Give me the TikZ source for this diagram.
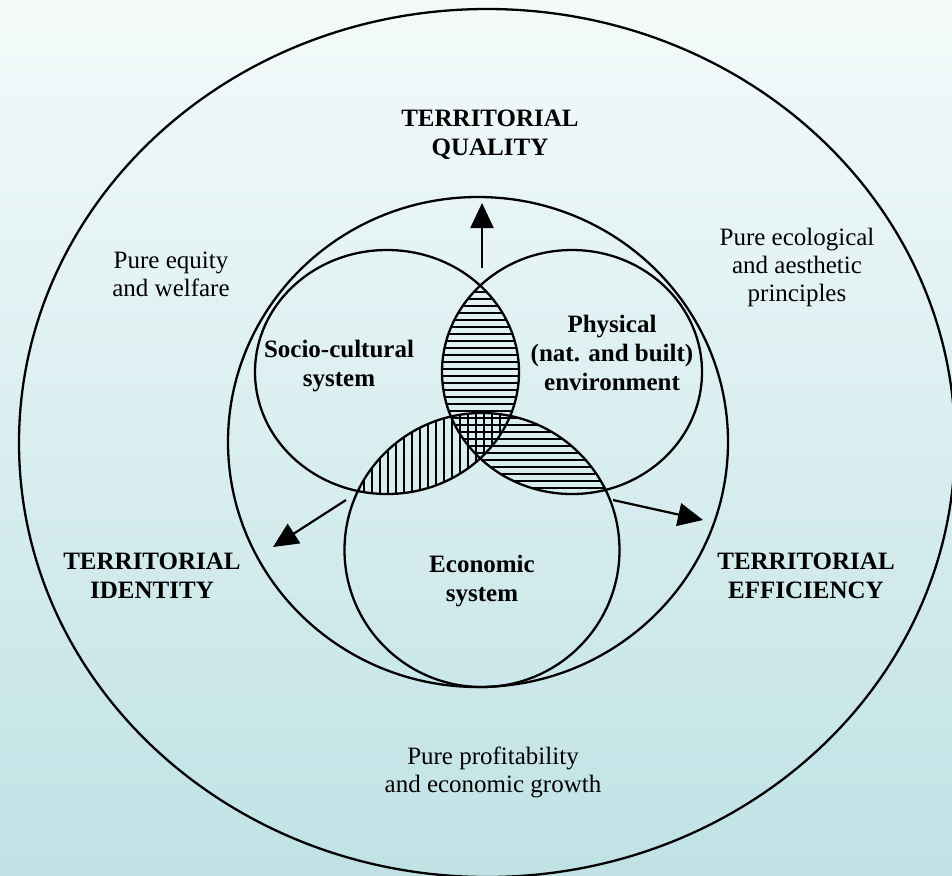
\documentclass[tikz,border=0pt]{standalone}
\usepackage{fontspec}
\setmainfont{Liberation Serif}
\usetikzlibrary{arrows.meta}

\definecolor{bgtop}{RGB}{244,250,250}
\definecolor{bgbottom}{RGB}{192,226,229}

\begin{document}
\begin{tikzpicture}[x=0.5pt, y=-0.5pt,
  ring/.style={line width=1.15pt},
  hatch/.style={line width=1.4pt},
  plain/.style={font=\fontsize{12.5}{14}\selectfont, align=center, inner sep=0pt},
  heading/.style={font=\fontsize{12.5}{14.5}\selectfont\bfseries, align=center, inner sep=0pt},
  pointer/.style={line width=1.1pt, -{Triangle[length=12.5pt,width=11.5pt]}}]
% Background
\fill[top color=bgtop, bottom color=bgbottom] (0,0) rectangle (952,875);
\useasboundingbox (0,0) rectangle (952,875);
% Hatching: socio-cultural and physical
\begin{scope}
  \clip (387,372) ellipse (132 and 122);
  \clip (572,372) ellipse (130 and 122);
  \foreach \y in {292,299,...,480} \draw[hatch] (420,\y) -- (540,\y);
\end{scope}
% Hatching: physical and economic
\begin{scope}
  \clip (572,372) ellipse (130 and 122);
  \clip (482,550) ellipse (137.5 and 137);
  \foreach \y in {418,425,...,500} \draw[hatch] (440,\y) -- (640,\y);
\end{scope}
% Hatching: socio-cultural and economic
\begin{scope}
  \clip (387,372) ellipse (132 and 122);
  \clip (482,550) ellipse (137.5 and 137);
  \foreach \x in {348,356,...,500} \draw[hatch] (\x,410) -- (\x,500);
\end{scope}
% Rings
\draw[ring] (487,443) ellipse (468 and 434);
\draw[ring] (478,442) ellipse (250 and 245);
\draw[ring] (387,372) ellipse (132 and 122);
\draw[ring] (572,372) ellipse (130 and 122);
\draw[ring] (482,550) ellipse (137.5 and 137);
% Arrow ends
\coordinate (qfoot) at (482,268);
\coordinate (qtip) at (482,203);
\coordinate (ifoot) at (346,500);
\coordinate (itip) at (273,547);
\coordinate (efoot) at (613,500);
\coordinate (etip) at (703,520);
\draw[pointer] (qfoot) -- (qtip);
\draw[pointer] (ifoot) -- (itip);
\draw[pointer] (efoot) -- (etip);
% Labels
\node[heading] (quality) at (490,135) {TERRITORIAL\\QUALITY};
\node[heading] (identity) at (152,576) {TERRITORIAL\\IDENTITY};
\node[heading] (efficiency) at (806,576) {TERRITORIAL\\EFFICIENCY};
\node[heading] (socio) at (339,366) {Socio-cultural\\system};
\node[heading] (physical) at (612,353) {Physical\\(nat. and built)\\environment};
\node[heading] (economic) at (482,581) {Economic\\system};
\node[plain] (equity) at (171,274) {Pure equity\\and welfare};
\node[plain] (ecology) at (797,267) {Pure ecological\\and aesthetic\\principles};
\node[plain] (profit) at (493,772) {Pure profitability\\and economic growth};
\end{tikzpicture}
\end{document}
